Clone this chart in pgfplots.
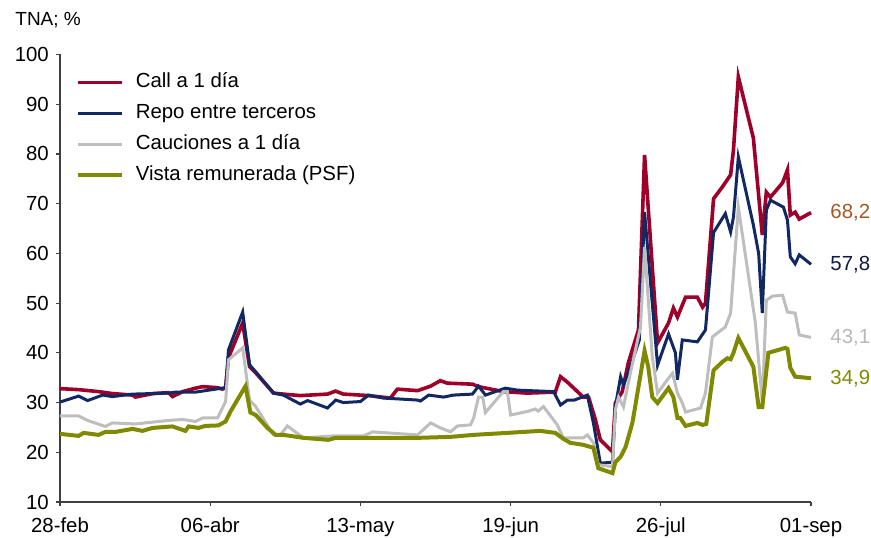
\documentclass[border=0pt]{standalone}
\usepackage{pgfplots}
\pgfplotsset{compat=1.18}
\usepackage{fontspec}
\setmainfont{Liberation Sans}
\definecolor{callred}{RGB}{158,0,42}
\definecolor{reponavy}{RGB}{18,40,98}
\definecolor{caugray}{RGB}{190,190,190}
\definecolor{vistaolive}{RGB}{128,138,0}
\definecolor{lblbrown}{RGB}{166,88,36}
\definecolor{lblnavy}{RGB}{15,25,70}
\definecolor{lblgray}{RGB}{185,185,185}

\begin{document}
\fontsize{10.2bp}{12bp}\selectfont
\begin{tikzpicture}
\path[use as bounding box] (-30bp,-18bp) rectangle (405.5bp,251bp);
\begin{axis}[
  at={(0,0)}, anchor=south west,
  scale only axis, width=375.5bp, height=223.75bp,
  xmin=0, xmax=185, ymin=10, ymax=100,
  axis lines=left,
  axis line style={-, black!75, line width=0.6bp},
  tick style={black!75, line width=0.6bp},
  tick align=outside, major tick length=2bp,
  xtick={0,37,74,111,148,185},
  xticklabels={28-feb,06-abr,13-may,19-jun,26-jul,01-sep},
  xticklabel style={yshift=-2.5bp},
  ytick={10,20,...,100},
  /pgf/number format/assume math mode=true,
  clip=false,
  legend cell align=left,
  legend style={at={(0.0205,0.962)}, anchor=north west, draw=none, fill=none,
    inner sep=0pt, row sep=5bp, column sep=6bp,
    nodes={inner sep=0pt, text height=8bp, text depth=2.5bp}},
  legend image code/.code={\draw[#1] (0bp,0bp) -- (22bp,0bp);},
]
% Call a 1 dia
\addplot[callred, line width=1.8bp] coordinates {
(0,32.8)(4.6,32.6)(9.5,32.2)(13,31.8)(17.9,31.5)(18.6,31.1)(22.8,31.8)(26.7,32)
(27.7,31.2)(30.2,32.2)(33.4,32.9)(35.1,33.2)(38.8,33)(40,32.7)(40.8,33)(41.5,39)
(45,46)(46.7,37.2)(48.2,36)(52.6,31.9)(55,31.7)(59.2,31.4)(65.9,31.7)(67.9,32.3)
(69.8,31.7)(74,31.5)(76,31.4)(81.4,30.9)(83.1,32.7)(88.1,32.4)(91.3,33.3)(93.7,34.4)
(95.4,33.9)(101.6,33.7)(103.1,33.2)(109.2,32.2)(115.1,31.9)(122,32.1)(123.3,35.2)
(125,34.1)(128.9,31.1)(130.2,31.1)(131.9,26.5)(133.1,22.5)(136.1,20.1)(136.8,29.9)
(138.5,32.2)(140,38)(142.5,44.6)(144,79.8)(147.2,42)(149.9,46)(151.1,49)(152.1,47.2)
(154.1,51.2)(157,51.2)(158.3,49.2)(159,50)(161,71)(163.2,73.4)(165.2,75.8)(165.9,80.8)
(167.1,95.5)(170.8,83.2)(173,63.7)(174,72.3)(175,71.3)(178,74.2)(179.2,76.8)
(179.9,67.7)(181.1,68.3)(182.1,66.9)(185,68.2)
};
\addlegendentry{Call a 1 día}
% Repo entre terceros
\addplot[reponavy, line width=1.5bp] coordinates {
(0,30.1)(4.6,31.3)(6.8,30.4)(10.5,31.5)(12.9,31.2)(17.9,31.7)(26.7,31.9)(28.4,32.1)
(33.4,32.1)(40,32.9)(40.8,33)(41.5,40.6)(45,48.2)(46.7,37.6)(48.2,36.2)(52.6,31.9)
(55,31.5)(59.2,29.7)(61,30.4)(65.9,28.9)(67.9,30.5)(69.8,30)(74,30.2)(76,31.5)
(79.7,30.9)(88.1,30.5)(88.8,30.3)(90.8,31.5)(94.5,31.1)(96.9,31.5)(101.6,31.7)
(103.1,33.3)(104.8,31.5)(109.7,32.9)(112.7,32.5)(121.6,32.2)(123.3,29.5)(125,30.5)
(126.7,30.5)(129.9,31.5)(131.4,25.9)(133.1,17.8)(136.1,18)(136.8,29.2)(138.1,35.2)
(138.8,33.5)(140.5,37.2)(142.7,42.6)(144,68.3)(147.2,37.5)(149.9,43.8)(151.6,40)
(152.1,34.6)(153.3,42.6)(157,42.2)(159,44.6)(161,64.2)(163.9,68)(165.2,64.3)
(165.9,67.3)(167.1,79.4)(170.8,65.7)(172.1,60)(173,48)(174,68.7)(175,70.7)
(178.2,69.3)(179.2,66.7)(179.9,59.3)(181.1,57.9)(182.1,59.7)(185,57.8)
};
\addlegendentry{Repo entre terceros}
% Cauciones a 1 dia
\addplot[caugray, line width=1.5bp] coordinates {
(0,27.3)(4.6,27.3)(6.8,26.4)(11.2,25.2)(12.9,25.9)(18.6,25.7)(26.7,26.4)(30.2,26.6)
(33.4,26.2)(35.1,26.9)(38.8,26.9)(40.8,30.2)(41.5,38.6)(45,41)(46.7,30.5)(48.2,29.2)
(52.6,23.5)(54.3,23.5)(56,25.3)(60,22.9)(67.4,23.3)(74.8,23.3)(77,24.1)(88.1,23.5)
(91.3,25.9)(93.7,24.9)(96.2,24.1)(97.9,25.3)(101.1,25.5)(101.9,26.9)(103.1,31.1)
(104.1,31.1)(104.8,28)(109.2,32.2)(110.2,32.2)(111,27.5)(115.1,28.2)(117.1,28.7)
(117.8,28.3)(119.1,29.2)(122.5,25.5)(124,22.9)(128.9,22.9)(129.9,23.5)(131.4,21.9)
(132.6,17.5)(136.1,17.1)(136.8,28.5)(137.6,31.1)(138.8,29.1)(140.5,35.9)(143,45.2)
(144,61.3)(145.9,39.2)(147.2,31.9)(149.9,34.9)(150.9,35.9)(152.1,31.9)(153.3,29.9)
(154.1,28.1)(157.8,28.9)(159,31.9)(160.7,43.2)(163.9,45.2)(165.2,48)(167.1,69.3)
(171.3,46)(173,30)(174,50.6)(175.5,51.4)(178,51.6)(179.2,48.2)(181.1,48)(182.1,43.6)
(185,43.1)
};
\addlegendentry{Cauciones a 1 día}
% Vista remunerada (PSF)
\addplot[vistaolive, line width=2bp] coordinates {
(0,23.7)(4.6,23.3)(5.8,23.9)(9.5,23.5)(11.2,24.1)(13.7,24.1)(17.9,24.7)(20.3,24.3)
(22.8,24.9)(27.7,25.2)(30.9,24.3)(31.7,25.2)(34.1,24.9)(35.8,25.3)(39,25.4)(40.8,26.2)
(42,28.2)(45.7,33.3)(46.9,28)(48.2,27.5)(51.1,24.9)(53.1,23.5)(55,23.5)(60,22.9)
(66.1,22.5)(67.9,22.9)(74.8,22.9)(88.1,22.9)(96.2,23.1)(101.9,23.5)(110.2,23.9)
(118.3,24.3)(122,23.9)(124,22.7)(125.7,21.9)(128.9,21.5)(131.4,20.9)(132.6,16.8)
(136.1,15.8)(136.8,18)(138.1,19.1)(139.3,21)(141,25.9)(144,40.4)(144.9,37.2)
(145.9,31.1)(147.2,29.9)(149.9,32.9)(151.1,31.1)(152.1,26.9)(152.8,26.9)(154.1,25.3)
(157,25.9)(158.3,25.5)(159.2,25.7)(161,36.5)(163.2,38.2)(164.4,38.9)(165.2,38.7)
(165.9,40)(167.1,43)(170.8,37.2)(172.1,29.1)(173,29.1)(174.5,40)(178.7,41)(179.2,40.8)
(179.9,37)(181.1,35.2)(185,34.9)
};
\addlegendentry{Vista remunerada (PSF)}
\node[anchor=west, inner sep=0pt, xshift=9.5bp, text=lblbrown] at (axis cs:185,68.2) {68,2};
\node[anchor=west, inner sep=0pt, xshift=9.5bp, text=lblnavy] at (axis cs:185,57.8) {57,8};
\node[anchor=west, inner sep=0pt, xshift=9.5bp, text=lblgray] at (axis cs:185,43.1) {43,1};
\node[anchor=west, inner sep=0pt, xshift=9.5bp, text=vistaolive] at (axis cs:185,34.9) {34,9};
\end{axis}
\node[anchor=west, inner sep=0pt, font=\fontsize{9.5bp}{11bp}\selectfont] at (-22.5bp,241bp) {TNA; \%};
\end{tikzpicture}
\end{document}
